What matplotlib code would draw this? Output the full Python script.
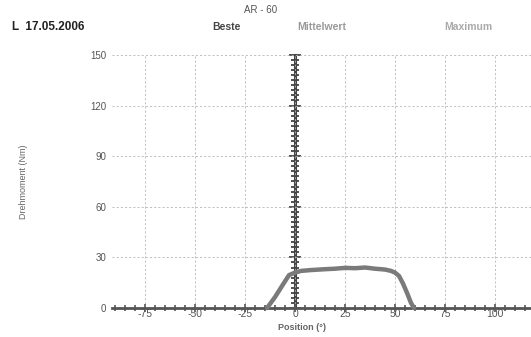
import matplotlib
matplotlib.use("Agg")
import matplotlib.pyplot as plt
import numpy as np

plt.rcParams["font.family"] = ["Liberation Sans", "DejaVu Sans"]
plt.rcParams["axes.unicode_minus"] = False

# torque curve
position = [-14, -10, -6, -3, -1, 0, 3, 8, 15, 20, 25, 30, 35, 40, 45, 48, 50, 52, 54, 56, 58, 59.5]
torque = [0, 6.5, 14, 19.5, 20.5, 21, 22, 22.5, 23, 23.3, 23.8, 23.6, 24, 23.3, 22.8, 22, 21, 19, 14.5, 9, 3, 0]

x_ticks = [-75, -50, -25, 0, 25, 50, 75, 100]
y_ticks = [0, 30, 60, 90, 120, 150]
x_lim = (-91.5, 118)
y_lim = (0, 150)

fig = plt.figure(figsize=(5.31, 3.37), dpi=100)
ax = fig.add_axes([0.211, 0.086, 0.789, 0.751])

ax.set_xlim(*x_lim)
ax.set_ylim(*y_lim)
ax.set_xticks(x_ticks)
ax.set_yticks(y_ticks)
ax.set_xticks(np.arange(-90, 119, 5), minor=True)
ax.grid(True, which="major", color="#b5b5b5", linestyle=(0, (2.5, 2.5)), linewidth=0.6)

for s in ["top", "right", "left"]:
    ax.spines[s].set_visible(False)
ax.spines["bottom"].set_color("#555555")
ax.spines["bottom"].set_linewidth(2)

ax.tick_params(axis="y", length=0, labelsize=7, labelcolor="#555555", pad=4)
ax.tick_params(axis="x", which="both", direction="inout", color="#555555", width=1.2,
               labelsize=7.5, labelcolor="#555555", pad=-2)
ax.tick_params(axis="x", which="major", length=6)
ax.tick_params(axis="x", which="minor", length=5)

# vertical axis line through x = 0
zero_frac = (0 - x_lim[0]) / (x_lim[1] - x_lim[0])
sec = ax.secondary_yaxis(zero_frac)
sec.set_yticks(y_ticks)
sec.set_yticks(np.arange(0, 151, 3), minor=True)
sec.spines["left"].set_color("#444444")
sec.spines["left"].set_linewidth(2.2)
sec.tick_params(which="both", direction="inout", color="#444444", width=1.3, labelleft=False)
sec.tick_params(which="major", length=8)
sec.tick_params(which="minor", length=6)

ax.plot(position, torque, color="#7a7a7a", linewidth=3.2, solid_capstyle="round", clip_on=False, zorder=5)

ax.set_ylabel("Drehmoment (Nm)", fontsize=6.5, color="#666666")
ax.yaxis.set_label_coords(-0.2, 0.5)
fig.text(302 / 531, 1 - 327 / 337, "Position (°)", fontsize=6.5, color="#666666",
         fontweight="bold", ha="center", va="center")

fig.text(12 / 531, 1 - 27 / 337, "L  17.05.2006", fontsize=8.5, fontweight="bold", color="#222222", va="center")
fig.text(261 / 531, 1 - 10 / 337, "AR - 60", fontsize=7, color="#555555", ha="center", va="center")
fig.text(226 / 531, 1 - 27 / 337, "Beste", fontsize=7.5, fontweight="bold", color="#444444", ha="center", va="center")
fig.text(322 / 531, 1 - 27 / 337, "Mittelwert", fontsize=7.5, fontweight="bold", color="#999999", ha="center", va="center")
fig.text(468 / 531, 1 - 27 / 337, "Maximum", fontsize=7.5, fontweight="bold", color="#aaaaaa", ha="center", va="center")

fig.savefig("out.png", dpi=100)
